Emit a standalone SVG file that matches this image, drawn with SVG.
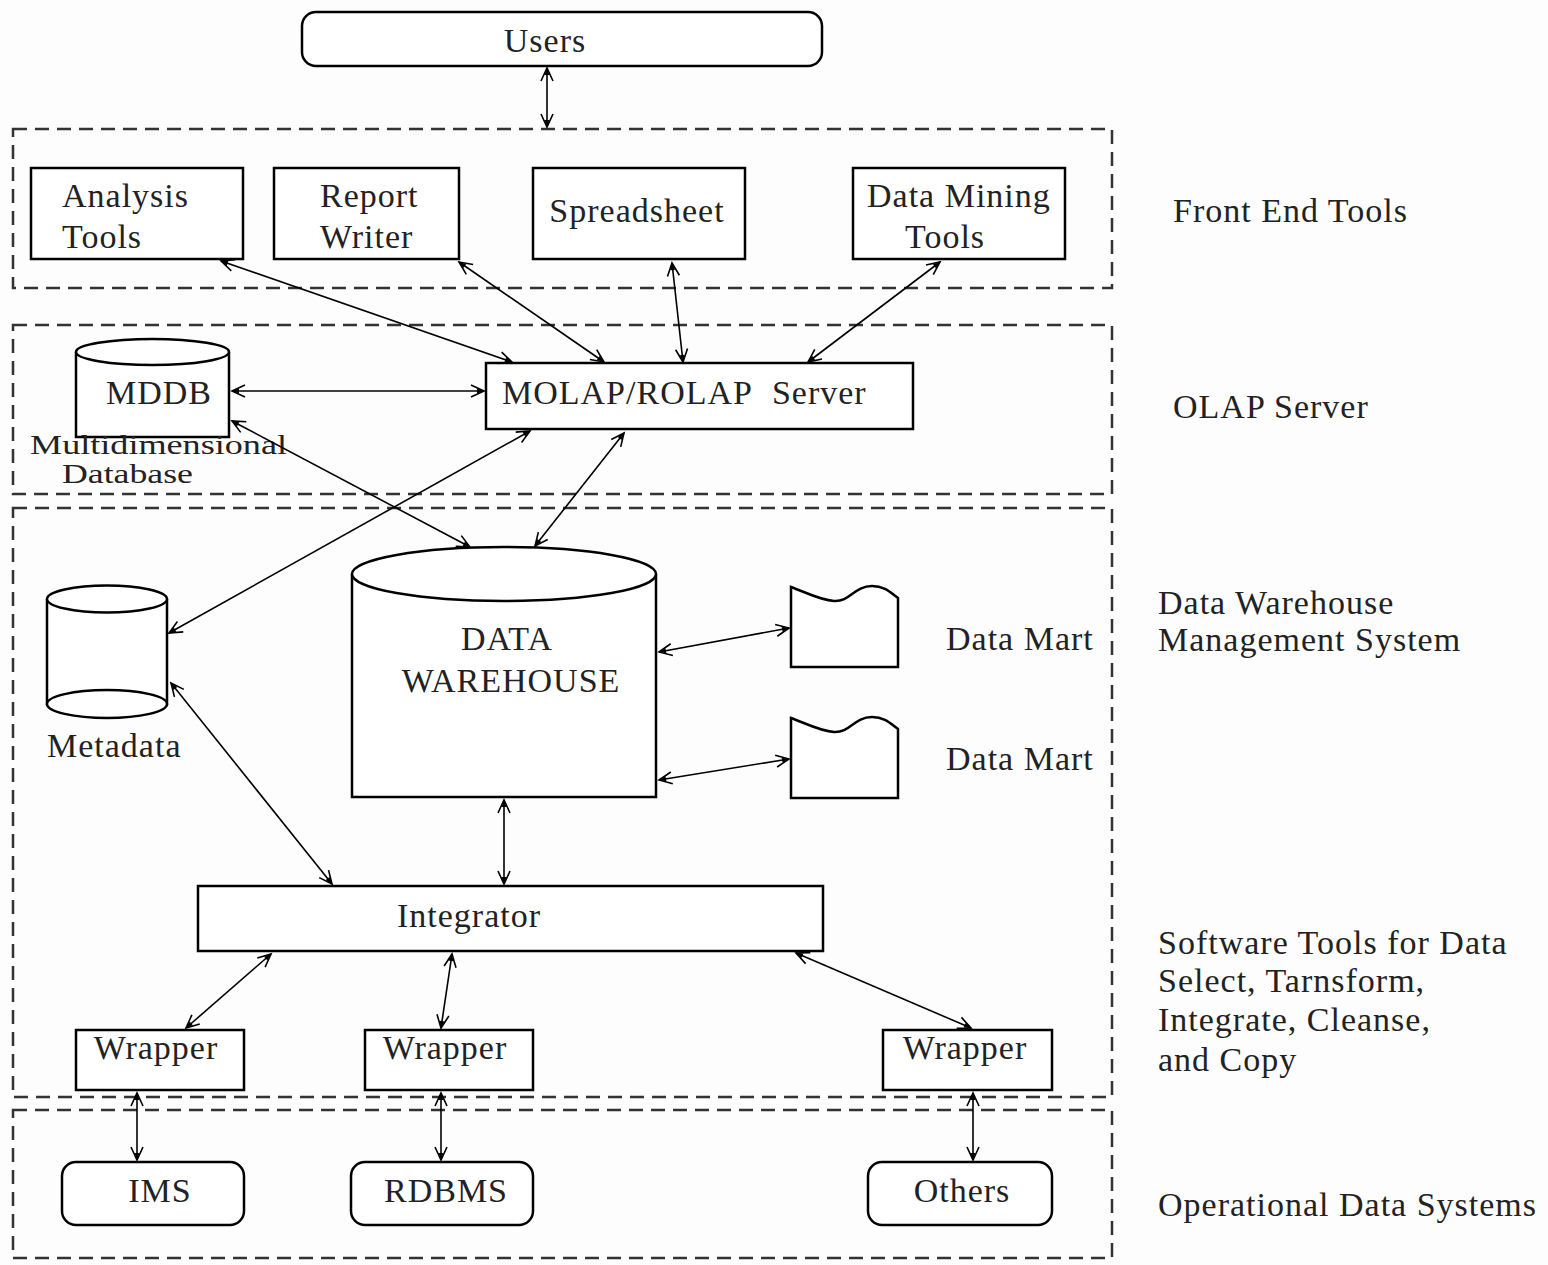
<svg xmlns="http://www.w3.org/2000/svg" width="1548" height="1265" viewBox="0 0 1548 1265">
<defs>
<style>
.t{font-family:"Liberation Serif","Times New Roman",serif;font-size:34px;fill:#222;letter-spacing:1px}
.s{font-size:27px;letter-spacing:0}
.c{text-anchor:middle}
.box{fill:#fff;stroke:#000;stroke-width:2.5}
.zone{fill:none;stroke:#333;stroke-width:2.5;stroke-dasharray:14 8}
.cn{fill:none;stroke:#000;stroke-width:1.6;marker-start:url(#ah);marker-end:url(#ah)}
</style>
<marker id="ah" markerUnits="userSpaceOnUse" markerWidth="16" markerHeight="14" refX="14" refY="6" orient="auto-start-reverse" overflow="visible">
<path d="M1,0 L14,6 L1,12" fill="none" stroke="#000" stroke-width="1.6"/>
<path d="M7,3.5 L14,6 L7,8.5 Z" fill="#000"/>
</marker>
</defs>
<rect width="1548" height="1265" fill="#fdfdfd"/>

<g id="zones">
<rect class="zone" x="13" y="129" width="1099" height="159"/>
<rect class="zone" x="13" y="325" width="1099" height="169"/>
<rect class="zone" x="13" y="508" width="1099" height="589"/>
<rect class="zone" x="13" y="1110" width="1099" height="148"/>
</g>

<g id="layer-labels">
<text class="t" x="1173" y="222">Front End Tools</text>
<text class="t" x="1173" y="418">OLAP Server</text>
<text class="t" x="1158" y="614">Data Warehouse</text>
<text class="t" x="1158" y="651">Management System</text>
<text class="t" x="1158" y="954">Software Tools for Data</text>
<text class="t" x="1158" y="992">Select, Tarnsform,</text>
<text class="t" x="1158" y="1031">Integrate, Cleanse,</text>
<text class="t" x="1158" y="1071">and Copy</text>
<text class="t" x="1158" y="1216">Operational Data Systems</text>
</g>

<g id="users">
<rect class="box" x="302" y="12" width="520" height="54" rx="14"/>
<text class="t c" x="545" y="52">Users</text>
</g>

<g id="analysis-tools">
<rect class="box" x="31" y="168" width="212" height="91"/>
<text class="t" x="62" y="207">Analysis</text>
<text class="t" x="62" y="248">Tools</text>
</g>
<g id="report-writer">
<rect class="box" x="274" y="168" width="185" height="91"/>
<text class="t" x="320" y="207">Report</text>
<text class="t" x="320" y="248">Writer</text>
</g>
<g id="spreadsheet">
<rect class="box" x="533" y="168" width="212" height="91"/>
<text class="t c" x="637" y="222">Spreadsheet</text>
</g>
<g id="data-mining-tools">
<rect class="box" x="853" y="168" width="212" height="91"/>
<text class="t" x="867" y="207">Data Mining</text>
<text class="t" x="905" y="248">Tools</text>
</g>

<g id="mddb">
<path class="box" d="M76,352 L76,437 L229,437 L229,352"/>
<ellipse class="box" cx="152.5" cy="352" rx="76.5" ry="13"/>
<text class="t" x="106" y="404">MDDB</text>
<text class="t s" x="30" y="454" textLength="257" lengthAdjust="spacingAndGlyphs">Multidimensional</text>
<text class="t s" x="62" y="483" textLength="131" lengthAdjust="spacingAndGlyphs">Database</text>
</g>

<g id="molap-rolap-server">
<rect class="box" x="486" y="363" width="427" height="66"/>
<text class="t" x="502" y="404">MOLAP/ROLAP&#160; Server</text>
</g>

<g id="metadata">
<path class="box" d="M47,599 L47,704 L167,704 L167,599"/>
<ellipse class="box" cx="107" cy="704" rx="60" ry="14"/>
<ellipse class="box" cx="107" cy="599" rx="60" ry="13.5"/>
<text class="t" x="47" y="757">Metadata</text>
</g>

<g id="data-warehouse">
<path class="box" d="M352,574 L352,797 L656,797 L656,574"/>
<ellipse class="box" cx="504" cy="574" rx="152" ry="27"/>
<text class="t c" x="507" y="650">DATA</text>
<text class="t c" x="511" y="692">WAREHOUSE</text>
</g>

<g id="data-mart-1">
<path class="box" d="M791,587 L791,667 L898,667 L898,598 C890,592 884,586 872,586 C854,586 850,602 834,601 C820,600 805,592 791,587 Z"/>
<text class="t" x="946" y="650">Data Mart</text>
</g>
<g id="data-mart-2">
<path class="box" d="M791,718 L791,798 L898,798 L898,729 C890,723 884,717 872,717 C854,717 850,733 834,732 C820,731 805,723 791,718 Z"/>
<text class="t" x="946" y="770">Data Mart</text>
</g>

<g id="integrator">
<rect class="box" x="198" y="886" width="625" height="65"/>
<text class="t c" x="469" y="927">Integrator</text>
</g>

<g id="wrapper-1">
<rect class="box" x="76" y="1030" width="168" height="60"/>
<text class="t c" x="156" y="1059">Wrapper</text>
</g>
<g id="wrapper-2">
<rect class="box" x="365" y="1030" width="168" height="60"/>
<text class="t c" x="445" y="1059">Wrapper</text>
</g>
<g id="wrapper-3">
<rect class="box" x="883" y="1030" width="169" height="60"/>
<text class="t c" x="965" y="1059">Wrapper</text>
</g>

<g id="ims">
<rect class="box" x="62" y="1162" width="182" height="63" rx="14"/>
<text class="t c" x="160" y="1202">IMS</text>
</g>
<g id="rdbms">
<rect class="box" x="351" y="1162" width="182" height="63" rx="14"/>
<text class="t c" x="446" y="1202">RDBMS</text>
</g>
<g id="others">
<rect class="box" x="868" y="1162" width="184" height="63" rx="14"/>
<text class="t c" x="962" y="1202">Others</text>
</g>

<g id="connectors">
<line class="cn" x1="547" y1="68" x2="547" y2="127"/>
<line class="cn" x1="221" y1="261" x2="512" y2="362"/>
<line class="cn" x1="459" y1="262" x2="604" y2="362"/>
<line class="cn" x1="672" y1="263" x2="683" y2="362"/>
<line class="cn" x1="940" y1="262" x2="808" y2="362"/>
<line class="cn" x1="232" y1="391" x2="484" y2="391"/>
<line class="cn" x1="232" y1="421" x2="470" y2="547"/>
<line class="cn" x1="530" y1="431" x2="169" y2="633"/>
<line class="cn" x1="624" y1="433" x2="535" y2="546"/>
<line class="cn" x1="659" y1="652" x2="789" y2="628"/>
<line class="cn" x1="659" y1="780" x2="789" y2="759"/>
<line class="cn" x1="171" y1="683" x2="332" y2="884"/>
<line class="cn" x1="504" y1="800" x2="504" y2="884"/>
<line class="cn" x1="271" y1="954" x2="186" y2="1028"/>
<line class="cn" x1="452" y1="954" x2="441" y2="1028"/>
<line class="cn" x1="796" y1="953" x2="971" y2="1028"/>
<line class="cn" x1="137" y1="1093" x2="137" y2="1160"/>
<line class="cn" x1="441" y1="1093" x2="441" y2="1160"/>
<line class="cn" x1="973" y1="1093" x2="973" y2="1160"/>
</g>
</svg>
